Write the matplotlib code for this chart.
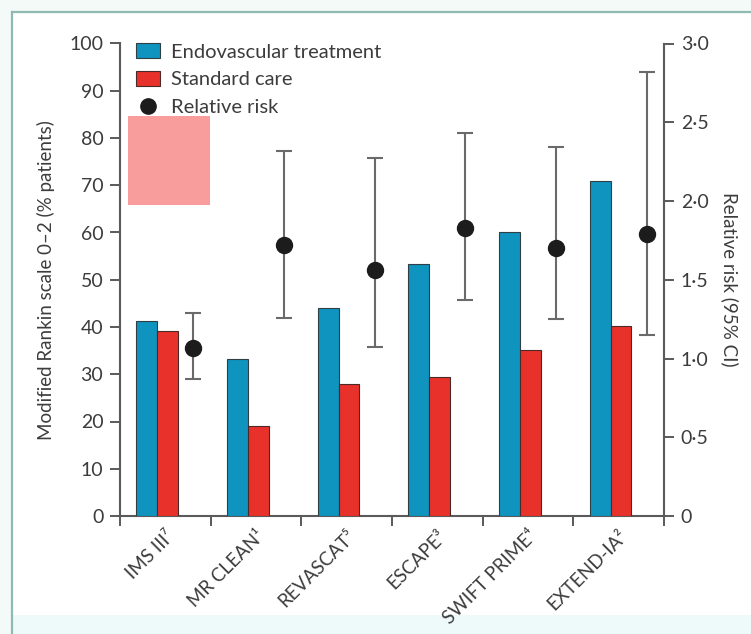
import numpy as np
import matplotlib
matplotlib.use('Agg')
import matplotlib.pyplot as plt
import matplotlib.patches as mpatches
from matplotlib.lines import Line2D

plt.rcParams['font.family'] = ['Lato', 'DejaVu Sans']

# trial data
trials = ['IMS III\u2077', 'MR CLEAN\u00b9', 'REVASCAT\u2075', 'ESCAPE\u00b3',
          'SWIFT PRIME\u2074', 'EXTEND-IA\u00b2']
endovascular = [41.3, 33.3, 44.0, 53.3, 60.0, 71.0]
standard_care = [39.2, 19.0, 27.9, 29.4, 35.1, 40.3]
rr = [1.065, 1.72, 1.56, 1.83, 1.70, 1.79]
rr_low = [0.87, 1.26, 1.07, 1.37, 1.25, 1.15]
rr_high = [1.29, 2.32, 2.27, 2.43, 2.34, 2.82]

left_ticks = list(range(0, 101, 10))
right_ticks = [0, 0.5, 1.0, 1.5, 2.0, 2.5, 3.0]
right_labels = ['0', '0\u00b75', '1\u00b70', '1\u00b75', '2\u00b70', '2\u00b75', '3\u00b70']

BLUE = '#0f93bf'
RED = '#e8312b'
TXT = '#3c3c3c'
AXC = '#5a5a5a'

W, H = 751, 634
fig = plt.figure(figsize=(W / 100, H / 100), dpi=100)
fig.patch.set_facecolor('white')

# page frame around the figure
fig.add_artist(mpatches.Rectangle((0, 1 - 12 / H), 1, 12 / H, transform=fig.transFigure,
                                  facecolor='#f4faf8', edgecolor='none', zorder=-5))
fig.add_artist(mpatches.Rectangle((0, 0), 12 / W, 1, transform=fig.transFigure,
                                  facecolor='#f4faf8', edgecolor='none', zorder=-5))
fig.add_artist(mpatches.Rectangle((13 / W, 0), 1, 19 / H, transform=fig.transFigure,
                                  facecolor='#eefafa', edgecolor='none', zorder=-5))
fig.add_artist(Line2D([12 / W, 1], [1 - 12 / H, 1 - 12 / H], transform=fig.transFigure,
                      color='#8fb9b1', lw=1.6))
fig.add_artist(Line2D([12 / W, 12 / W], [0, 1 - 12 / H], transform=fig.transFigure,
                      color='#8fb9b1', lw=1.6))

ax = fig.add_axes([120 / W, 1 - 516 / H, 544 / W, (516 - 43.5) / H])
ax2 = ax.twinx()

x = np.arange(len(trials))
bw = 0.23
ax.bar(x + 0.295, endovascular, bw, color=BLUE, edgecolor='#2f3f45', linewidth=0.8, zorder=3)
ax.bar(x + 0.525, standard_care, bw, color=RED, edgecolor='#4a2a28', linewidth=0.8, zorder=3)

# pink block in the upper left
ax.add_patch(mpatches.Rectangle((0.09, 65.8), 0.90, 18.9, facecolor='#f99c9c',
                                edgecolor='none', zorder=2))

ax2.errorbar(x + 0.81, rr,
             yerr=[np.array(rr) - np.array(rr_low), np.array(rr_high) - np.array(rr)],
             fmt='o', color='#1c1c1c', ms=11.5, ecolor='#6a6a6a', elinewidth=1.5,
             capsize=6, capthick=1.5, zorder=4)

ax.set_xlim(0, 6)
ax.set_ylim(0, 100)
ax2.set_ylim(0, 3.0)

ax.set_yticks(left_ticks)
ax.set_yticklabels([str(t) for t in left_ticks])
ax2.set_yticks(right_ticks)
ax2.set_yticklabels(right_labels)

ax.set_xticks(x + 0.5)
ax.set_xticklabels(trials, rotation=45, ha='right', rotation_mode='anchor')
ax.set_xticks(np.arange(0, 7), minor=True)
ax.tick_params(axis='x', which='major', length=0, pad=8, labelsize=13.5, labelcolor=TXT)
ax.tick_params(axis='x', which='minor', length=7, width=1.4, color=AXC, direction='out')
ax.tick_params(axis='y', length=7, width=1.4, color=AXC, pad=5, labelsize=14, labelcolor=TXT)
ax2.tick_params(axis='y', length=7, width=1.4, color=AXC, pad=5, labelsize=14, labelcolor=TXT)

for a in (ax, ax2):
    a.spines['top'].set_visible(False)
    for s in a.spines.values():
        s.set_color(AXC)
        s.set_linewidth(1.5)
    a.set_facecolor('none')
ax2.spines['left'].set_visible(False)
ax2.spines['bottom'].set_visible(False)
ax.spines['right'].set_visible(False)

ax.set_ylabel('Modified Rankin scale 0\u20132 (% patients)', fontsize=13.5, color=TXT, labelpad=10)
ax2.set_ylabel('Relative risk (95% CI)', fontsize=13.5, color=TXT, rotation=270, labelpad=22)

handles = [mpatches.Patch(facecolor=BLUE, edgecolor='#2f3f45', linewidth=0.8, label='Endovascular treatment'),
           mpatches.Patch(facecolor=RED, edgecolor='#4a2a28', linewidth=0.8, label='Standard care'),
           Line2D([], [], marker='o', color='#1c1c1c', ms=11, linestyle='none', label='Relative risk')]
leg = ax2.legend(handles=handles, loc='upper left', bbox_to_anchor=(0.03, 1.0),
                 frameon=False, fontsize=14.5, handlelength=1.2, handleheight=0.75,
                 handletextpad=0.5, labelspacing=0.5, borderpad=0, borderaxespad=0)
for t in leg.get_texts():
    t.set_color(TXT)

fig.savefig('out.png', dpi=100)
